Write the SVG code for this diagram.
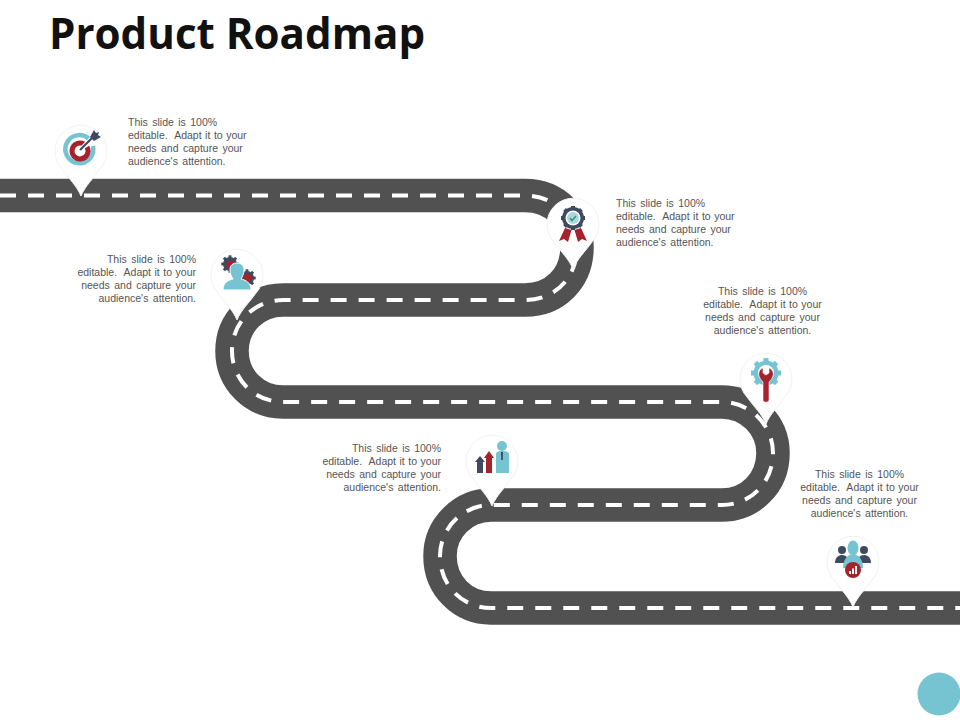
<svg xmlns="http://www.w3.org/2000/svg" width="960" height="720" viewBox="0 0 960 720">
<style>
.title{font:700 42.100px "Open Sans","Liberation Sans",sans-serif;fill:#111}
.copy{font:10.500px "Liberation Sans",Arial,sans-serif;fill:#555;word-spacing:1.500px;white-space:pre}
.copy.tight{word-spacing:.6px}
.end{text-anchor:end}
.mid{text-anchor:middle}
.road{fill:none;stroke:#515151;stroke-width:33.500}
.lane{fill:none;stroke:#fff;stroke-width:4;stroke-dasharray:16 12}
.pin{fill:#fff;stroke:#f1f2f2;stroke-width:1}
.navy{fill:#3d4a5f}.red{fill:#a6232d}.teal{fill:#76c3d1}.white{fill:#fff}
</style>
<defs>
<path id="marker-pin" class="pin" d="M0 47C-4 37-12 30-19 20A26 26 0 1 1 19 20C12 30 4 37 0 47Z"/>
<g id="gear-spokes">
<rect x="-2.500" y="-15" width="5" height="30"/><rect x="-2.500" y="-15" width="5" height="30" transform="rotate(45)"/><rect x="-2.500" y="-15" width="5" height="30" transform="rotate(90)"/><rect x="-2.500" y="-15" width="5" height="30" transform="rotate(135)"/>
</g>
</defs>
<text class="title" x="49" y="49">Product Roadmap</text>

<g id="connectors">
<path id="road" class="road" d="M0 195.500H525C555 195.500 577 218 577 247C577 278 555 300 525 300H283C255 300 232 322 232 351C232 380 255 402 283 402H722C750 402 773 425 773 453C773 483 750 505 722 505H491C463 505 440 528 440 556C440 586 463 608 491 608H960"/>
<path id="lane" class="lane" d="M0 195.500H525C555 195.500 577 218 577 247C577 278 555 300 525 300H283C255 300 232 322 232 351C232 380 255 402 283 402H722C750 402 773 425 773 453C773 483 750 505 722 505H491C463 505 440 528 440 556C440 586 463 608 491 608H960"/>
</g>

<g id="node-target" transform="translate(81,149)">
<use href="#marker-pin"/>
<path d="M9-11A14 14 0 1 0 13 -4" transform="translate(-1,1)" fill="none" stroke="#76c3d1" stroke-width="4.500"/>
<path d="M4-6A8 8 0 1 0 7 -3" transform="translate(-1,1)" fill="none" stroke="#a6232d" stroke-width="5"/>
<path d="M-1 1L13-13" stroke="#fff" stroke-width="4"/>
<path d="M-1 1L13-13" stroke="#3d4a5f" stroke-width="2.200"/>
<path class="navy" d="M9-12L13-19L15-16L18-17L17-14L20-12L13-8Z"/>
<text class="copy" x="47" y="-23">This slide is 100%</text>
<text class="copy tight" x="47" y="-10">editable.  Adapt it to your</text>
<text class="copy" x="47" y="3">needs and capture your</text>
<text class="copy" x="47" y="16">audience's attention.</text>
</g>

<g id="node-award" transform="translate(573,222)">
<use href="#marker-pin"/>
<path class="red" d="M-8 6L-14 19L-9 17L-5 20L-1.500 8Z"/>
<path class="red" d="M8 6L14 19L9 17L5 20L1.500 8Z"/>
<g class="navy" transform="translate(0,-4)"><use href="#gear-spokes" transform="scale(.8)"/><circle r="11"/></g>
<circle cy="-4" r="7.500" fill="#fff"/>
<circle cy="-4" r="6" fill="#a9d9e0"/>
<path d="M-3-4L-1-1.500L3-6" fill="none" stroke="#3e8f84" stroke-width="1.500"/>
<text class="copy" x="43" y="-15">This slide is 100%</text>
<text class="copy tight" x="43" y="-2">editable.  Adapt it to your</text>
<text class="copy" x="43" y="11">needs and capture your</text>
<text class="copy" x="43" y="24">audience's attention.</text>
</g>

<g id="node-team-settings" transform="translate(237,273)">
<use href="#marker-pin"/>
<g class="navy" transform="translate(-7,-9)"><use href="#gear-spokes" transform="scale(.58)"/><circle r="7"/></g>
<g class="navy" transform="translate(10,5)"><use href="#gear-spokes" transform="scale(.58)"/><circle r="7"/></g>
<circle class="red" cx="-6" cy="-8" r="4.500"/><circle class="red" cx="10" cy="5" r="4.500"/>
<path class="teal" d="M-14 17C-14 9-8 7-4 6C-6 3-7 0-7-3C-7-8-4-10 0-10C4-10 7-8 7-3C7 0 6 3 4 6C8 7 14 9 14 17Z" stroke="#fff" stroke-width="1"/>
<text class="copy end" x="-41" y="-10">This slide is 100%</text>
<text class="copy end tight" x="-41" y="3">editable.  Adapt it to your</text>
<text class="copy end" x="-41" y="16">needs and capture your</text>
<text class="copy end" x="-41" y="29">audience's attention.</text>
</g>

<g id="node-repair" transform="translate(766,377)">
<use href="#marker-pin"/>
<g class="teal" transform="translate(0,-4)"><use href="#gear-spokes"/><circle r="12.500"/></g>
<circle class="white" cy="-4" r="8"/>
<path class="red" d="M-3-9V-4L0-2L3-4V-9C6-8 8-5 7-1C6 2 4 4 3 5V23C3 26-3 26-3 23V5C-4 4-6 2-7-1C-8-5-6-8-3-9Z" stroke="#fff" stroke-width=".6"/>
<text class="copy mid" x="-3.500" y="-82">This slide is 100%</text>
<text class="copy mid tight" x="-3.500" y="-69">editable.  Adapt it to your</text>
<text class="copy mid" x="-3.500" y="-56">needs and capture your</text>
<text class="copy mid" x="-3.500" y="-43">audience's attention.</text>
</g>

<g id="node-growth" transform="translate(492,459)">
<use href="#marker-pin"/>
<path class="navy" d="M-15 14V3H-17L-12-3L-7 3H-9V14Z"/>
<path class="red" d="M-6 14V-1H-8L-3-8L2-1H0V14Z"/>
<circle class="teal" cx="10" cy="-13" r="5"/>
<path class="teal" d="M4 14V-5C4-7 6-8 9-8H11C14-8 17-7 17-5V14Z"/>
<path class="navy" d="M9-7H11L10.800 1H9.200Z"/>
<text class="copy end" x="-51" y="-7">This slide is 100%</text>
<text class="copy end tight" x="-51" y="6">editable.  Adapt it to your</text>
<text class="copy end" x="-51" y="19">needs and capture your</text>
<text class="copy end" x="-51" y="32">audience's attention.</text>
</g>

<g id="node-people" transform="translate(853,560)">
<use href="#marker-pin"/>
<circle class="navy" cx="-11" cy="-10" r="4"/><path class="navy" d="M-18 3C-18-3-14-5-11-5C-7-5-4-2-4 3Z"/>
<circle class="navy" cx="11" cy="-10" r="4"/><path class="navy" d="M18 3C18-3 14-5 11-5C7-5 4-2 4 3Z"/>
<ellipse class="teal" cy="-12" rx="5.500" ry="7.500"/>
<path class="teal" d="M-10 8C-10-1-5-5-3-5H3C5-5 10-1 10 8Z"/>
<circle class="red" cy="10" r="8"/>
<path class="white" d="M-4 14V11H-2V14ZM-1 14V8.500H1V14ZM2 14V6H4V14Z"/>
<text class="copy mid" x="6.500" y="-82">This slide is 100%</text>
<text class="copy mid tight" x="6.500" y="-69">editable.  Adapt it to your</text>
<text class="copy mid" x="6.500" y="-56">needs and capture your</text>
<text class="copy mid" x="6.500" y="-43">audience's attention.</text>
</g>

<circle id="corner-dot" cx="939" cy="694" r="21.500" class="teal"/>
</svg>
